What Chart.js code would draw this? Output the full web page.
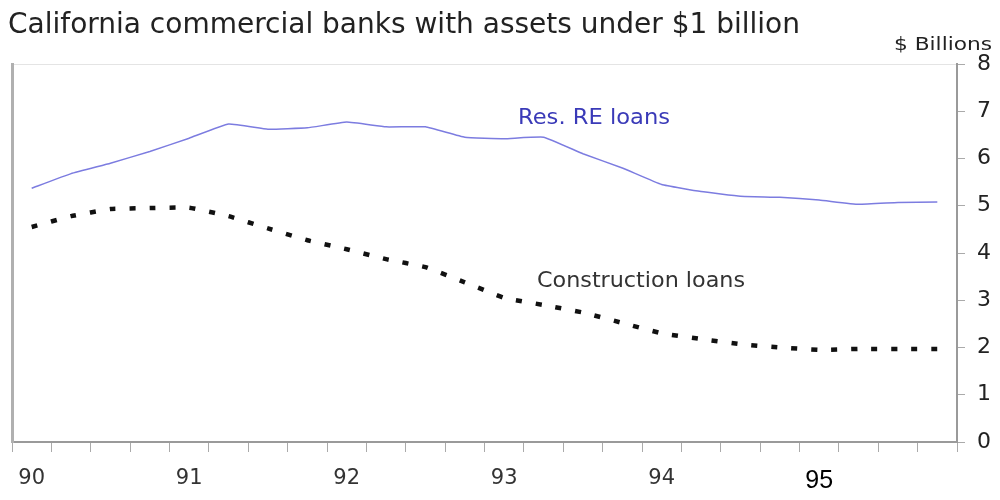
<!DOCTYPE html>
<html><head><meta charset="utf-8">
<script src="https://cdn.jsdelivr.net/npm/chart.js@4/dist/chart.umd.min.js"></script>
<style>html,body{margin:0;padding:0;background:#fff}#wrap{width:1000px;height:500px}</style>
</head><body><div id="wrap"><canvas id="c" width="1000" height="500"></canvas></div>
<script>
const quarters = ['90Q1','90Q2','90Q3','90Q4','91Q1','91Q2','91Q3','91Q4','92Q1','92Q2','92Q3','92Q4','93Q1','93Q2','93Q3','93Q4','94Q1','94Q2','94Q3','94Q4','95Q1','95Q2','95Q3','95Q4'];
const yearLabels = ['90','91','92','93','94','95'];
const resRELoans = [5.37,5.68,5.90,6.15,6.43,6.73,6.62,6.65,6.77,6.67,6.67,6.45,6.42,6.45,6.10,5.80,5.45,5.30,5.20,5.18,5.12,5.03,5.07,5.08];
const constructionLoans = [4.55,4.78,4.93,4.95,4.96,4.78,4.52,4.27,4.08,3.87,3.70,3.38,3.05,2.90,2.74,2.52,2.30,2.18,2.07,2.00,1.95,1.97,1.97,1.97];
const yTicks = [0,1,2,3,4,5,6,7,8];
const titleText = 'California commercial banks with assets under $1 billion';
const unitText = '$ Billions';
const resLabel = 'Res. RE loans';
const conLabel = 'Construction loans';

const FONT = "'DejaVu Sans', Verdana, sans-serif";

function fitText(ctx, text, x, y, size, width, color) {
  ctx.save();
  ctx.font = size + "px " + FONT;
  ctx.fillStyle = color;
  ctx.textAlign = 'left';
  ctx.textBaseline = 'middle';
  const w = ctx.measureText(text).width;
  const sx = width / w;
  ctx.translate(x, y);
  ctx.scale(sx, 1);
  ctx.fillText(text, 0, 0);
  ctx.restore();
}

const textPlugin = {
  id: 'texts',
  afterDraw(chart) {
    const ctx = chart.ctx;
    fitText(ctx, titleText, 8, 25, 29, 792, '#222');
    fitText(ctx, unitText, 894, 46, 17, 98, '#222');
    fitText(ctx, resLabel, 518, 119, 21, 152, '#3a3ab8');
    fitText(ctx, conLabel, 537, 282, 21, 208, '#333');
  }
};

new Chart(document.getElementById('c'), {
  type: 'line',
  data: {
    labels: quarters,
    datasets: [
      {label: resLabel, data: resRELoans, borderColor: '#7c7ce0', borderWidth: 1.5, pointRadius: 0, tension: 0.1, yAxisID: 'y', xAxisID: 'x'},
      {label: conLabel, data: constructionLoans, borderColor: '#111', borderWidth: 4.5, borderDash: [6, 14], borderCapStyle: 'butt', pointRadius: 0, tension: 0.1, yAxisID: 'y', xAxisID: 'x'}
    ]
  },
  options: {
    responsive: false,
    animation: false,
    layout: {padding: {top: 64, left: 12, right: 0, bottom: 0}},
    plugins: {legend: {display: false}, title: {display: false}, tooltip: {enabled: false}},
    scales: {
      x: {
        type: 'category', position: 'bottom', offset: true,
        border: {display: true, color: '#9a9a9a', width: 2},
        grid: {display: true, drawOnChartArea: false, drawTicks: true, tickLength: 10, color: '#aaa', lineWidth: 1, offset: true},
        ticks: {
          autoSkip: false, maxRotation: 0, padding: 14,
          callback: (v, i) => (i % 4 === 0 ? yearLabels[i / 4] : ''),
          color: (c) => (c.index === 20 ? '#000' : '#333'),
          font: (c) => (c.index === 20 ? {family: "'Liberation Sans', Arial, sans-serif", size: 25} : {family: FONT, size: 21})
        },
        afterFit(s) { s.height = 58; }
      },
      xTop: {
        type: 'category', position: 'top', offset: true, labels: quarters,
        border: {display: true, color: '#e4e4e4', width: 1},
        grid: {display: false}, ticks: {display: false},
        afterFit(s) { s.height = 0; }
      },
      yL: {
        type: 'linear', position: 'left', min: 0, max: 8,
        border: {display: true, color: '#b0b0b0', width: 3},
        grid: {display: false}, ticks: {display: false},
        afterFit(s) { s.width = 0; }
      },
      y: {
        type: 'linear', position: 'right', min: 0, max: 8,
        afterBuildTicks(s) { s.ticks = yTicks.map(v => ({value: v})); },
        border: {display: true, color: '#9a9a9a', width: 2},
        grid: {display: true, drawOnChartArea: false, drawTicks: true, tickLength: 8, color: '#aaa'},
        ticks: {padding: 12, color: '#222', font: {family: FONT, size: 22}},
        afterFit(s) { s.width = 43; }
      }
    }
  },
  plugins: [textPlugin]
});
</script></body></html>
